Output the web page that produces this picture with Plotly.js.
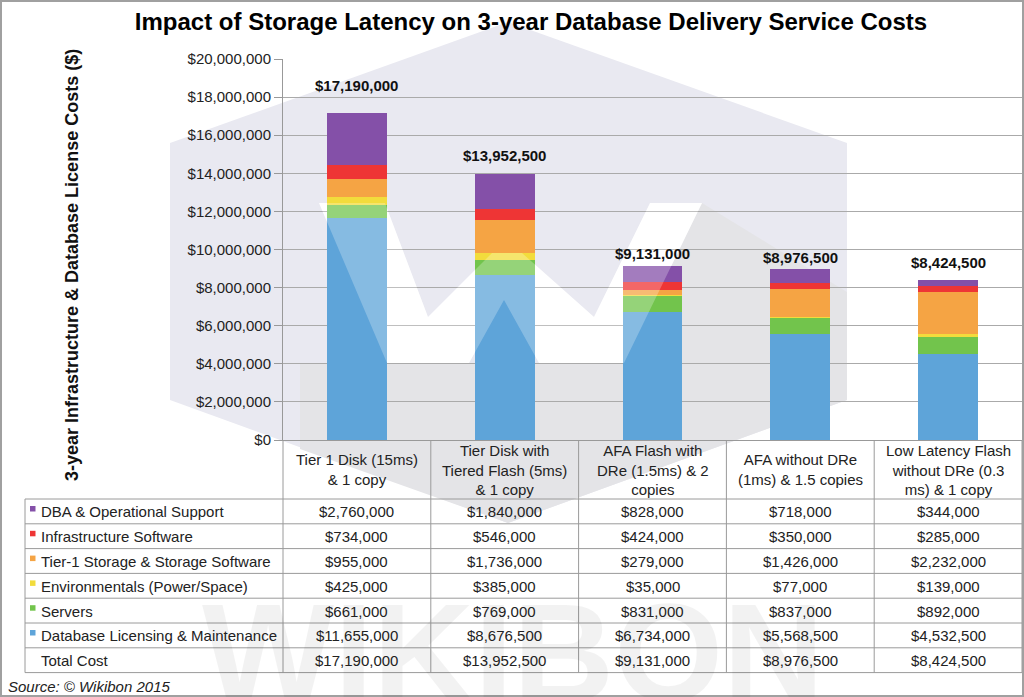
<!DOCTYPE html>
<html><head><meta charset="utf-8">
<script src="https://cdn.plot.ly/plotly-3.0.1.min.js"></script>
<style>html,body{margin:0;padding:0;background:#fff}#chart{width:1024px;height:697px}</style>
</head><body><div id="chart"></div>
<script>
// ---------------- data ----------------
const categories = [
  "Tier 1 Disk (15ms)<br>& 1 copy",
  "Tier Disk with<br>Tiered Flash (5ms)<br>& 1 copy",
  "AFA Flash with<br>DRe (1.5ms) & 2<br>copies",
  "AFA without DRe<br>(1ms) & 1.5 copies",
  "Low Latency Flash<br>without DRe (0.3<br>ms) & 1 copy"
];
const dbaSupport      = [2760000, 1840000, 828000, 718000, 344000];
const infraSoftware   = [734000, 546000, 424000, 350000, 285000];
const tier1Storage    = [955000, 1736000, 279000, 1426000, 2232000];
const environmentals  = [425000, 385000, 35000, 77000, 139000];
const servers         = [661000, 769000, 831000, 837000, 892000];
const dbLicensing     = [11655000, 8676500, 6734000, 5568500, 4532500];
const totalCost       = [17190000, 13952500, 9131000, 8976500, 8424500];
const seriesNames = [
  "DBA & Operational Support",
  "Infrastructure Software",
  "Tier-1 Storage & Storage Software",
  "Environmentals (Power/Space)",
  "Servers",
  "Database Licensing & Maintenance"
];
const totalLabel = "Total Cost";
const titleText = "Impact of Storage Latency on 3-year Database Delivery Service Costs";
const yTitleText = "3-year Infrastructure & Database License Costs ($)";
const sourceText = "Source: © Wikibon 2015";
const watermarkText = "WIKIBON";

// ---------------- styles ----------------
const seriesValues = [dbaSupport, infraSoftware, tier1Storage, environmentals, servers, dbLicensing];
const seriesColors = ["#8450a8", "#ee3535", "#f5a444", "#f2dc3c", "#72c44c", "#5ea4d9"];
const labelLift = [27, 19, 13, 12, 17];
const FONT = "Liberation Sans, Arial, Helvetica, sans-serif";

const W = 1024, H = 697, L = 283, R = 2, T = 59, B = 257;
const pw = W - L - R, ph = H - T - B;
const xp = px => (px - L) / pw;
const yp = py => (H - B - py) / ph;
const fmt = v => "$" + v.toLocaleString("en-US");

// bars: stack bottom -> top (reverse of table order)
const traces = [];
for (let i = seriesValues.length - 1; i >= 0; i--) {
  traces.push({
    type: "bar", x: categories, y: seriesValues[i], name: seriesNames[i],
    marker: {color: seriesColors[i], line: {width: 0}},
    hovertemplate: "%{y:$,}<extra>" + seriesNames[i] + "</extra>"
  });
}

const shapes = [];
const annotations = [];

// watermark
const P = pts => "M" + pts.map(p => xp(p[0]) + "," + yp(p[1])).join(" L") + " Z";
const hexagon = [[508,22],[847,143],[847,400],[508,523],[170,400],[170,143]];
const shadow = [[702,203],[847,292],[847,400],[508,523],[300,449],[300,363],[613,363]];
const wLogo = [[319,203],[385,203],[428,317],[492,253],[522,253],[594,317],[650,203],[702,203],[624,363],[539,363],[504,300],[469,363],[387,363]];
shapes.push({type:"path", xref:"paper", yref:"paper", path:P(hexagon), fillcolor:"#e9e9f1", line:{width:0}, layer:"below"});
shapes.push({type:"path", xref:"paper", yref:"paper", path:P(shadow), fillcolor:"#e4e4e7", line:{width:0}, layer:"below"});
shapes.push({type:"path", xref:"paper", yref:"paper", path:P(wLogo), fillcolor:"#ffffff", line:{width:0}, layer:"below"});
shapes.push({type:"path", xref:"paper", yref:"paper", path:P(wLogo), fillcolor:"rgba(255,255,255,0.25)", line:{width:0}, layer:"above"});
annotations.push({xref:"paper", yref:"paper", x:xp(513), y:yp(652), text:"<b>" + watermarkText + "</b>", showarrow:false,
  font:{family:FONT, size:140, color:"rgba(0,0,0,0.05)"}, xanchor:"center", yanchor:"middle"});

// table geometry
const headerTop = 440, headerBottom = 499, rowH = 24.8;
const nRows = seriesNames.length + 1;
const tableBottom = headerBottom + nRows * rowH;
const tableLeft = 25;
const gridColor = "#9a9a9a";
for (let r = 0; r <= nRows; r++) {
  const y = headerBottom + r * rowH;
  shapes.push({type:"line", xref:"paper", yref:"paper", x0:xp(tableLeft), x1:1, y0:yp(y), y1:yp(y), line:{color:gridColor, width:1}});
}
shapes.push({type:"line", xref:"paper", yref:"paper", x0:xp(tableLeft), x1:xp(tableLeft), y0:yp(headerBottom), y1:yp(tableBottom), line:{color:gridColor, width:1}});
for (let c = 0; c <= categories.length; c++) {
  const x = c / categories.length;
  shapes.push({type:"line", xref:"paper", yref:"paper", x0:x, x1:x, y0:yp(headerTop), y1:yp(tableBottom), line:{color:gridColor, width:1}});
}
// header labels
categories.forEach(cat => {
  annotations.push({xref:"x", yref:"paper", x:cat, y:yp((headerTop + headerBottom) / 2), text:cat, showarrow:false,
    font:{family:FONT, size:15, color:"#222"}, align:"center", xanchor:"center", yanchor:"middle"});
});
// rows
const rowValues = seriesValues.concat([totalCost]);
const rowNames = seriesNames.concat([totalLabel]);
rowNames.forEach((name, r) => {
  const top = headerBottom + r * rowH;
  const yc = yp(top + rowH / 2 + 0.5);
  annotations.push({xref:"paper", yref:"paper", x:xp(39), y:yc, text:name, showarrow:false,
    font:{family:FONT, size:15, color:"#222"}, xanchor:"left", yanchor:"middle"});
  if (r < seriesColors.length) {
    shapes.push({type:"rect", xref:"paper", yref:"paper", x0:xp(30), x1:xp(35.5), y0:yp(top + 7), y1:yp(top + 12.5),
      fillcolor:seriesColors[r], line:{width:0}});
  }
  categories.forEach((cat, c) => {
    annotations.push({xref:"x", yref:"paper", x:cat, y:yc, text:fmt(rowValues[r][c]), showarrow:false,
      font:{family:FONT, size:15, color:"#222"}, xanchor:"center", yanchor:"middle"});
  });
});
// totals above bars
categories.forEach((cat, c) => {
  annotations.push({xref:"x", yref:"y", x:cat, y:totalCost[c], yshift:labelLift[c], text:"<b>" + fmt(totalCost[c]) + "</b>",
    showarrow:false, font:{family:FONT, size:15, color:"#111"}, xanchor:"center", yanchor:"middle"});
});
// y title
annotations.push({xref:"paper", yref:"paper", x:xp(72), y:yp(265), text:"<b>" + yTitleText + "</b>", textangle:-90,
  showarrow:false, font:{family:FONT, size:18, color:"#111"}, xanchor:"center", yanchor:"middle"});
// source
annotations.push({xref:"paper", yref:"paper", x:xp(6), y:yp(686), text:"<i>" + sourceText + "</i>", showarrow:false,
  font:{family:FONT, size:15, color:"#222"}, xanchor:"left", yanchor:"middle"});
// outer frame
shapes.push({type:"rect", xref:"paper", yref:"paper", x0:xp(1), x1:xp(1023), y0:yp(1), y1:yp(696),
  line:{color:"#a0a0a0", width:2}, fillcolor:"rgba(0,0,0,0)", layer:"above"});

const layout = {
  width: W, height: H,
  margin: {l: L, r: R, t: T, b: B, pad: 0},
  paper_bgcolor: "#ffffff", plot_bgcolor: "rgba(0,0,0,0)",
  barmode: "stack", bargap: 0.595,
  showlegend: false,
  font: {family: FONT, color: "#222"},
  title: {text: "<b>" + titleText + "</b>", x: 531 / W, xanchor: "center", y: 1 - 22 / H, yanchor: "middle",
    font: {family: FONT, size: 24, color: "#000"}},
  xaxis: {type: "category", range: [-0.5, 4.5], showticklabels: false, ticks: "", showgrid: false,
    showline: true, linecolor: "#999", linewidth: 1, zeroline: false, fixedrange: true},
  yaxis: {range: [0, 20000000], dtick: 2000000, tick0: 0, tickprefix: "$", tickformat: ",",
    ticks: "outside", ticklen: 8, tickcolor: "#999", showline: true, linecolor: "#999", mirror: true,
    gridcolor: "#aaaaaa", gridwidth: 1, zeroline: false, tickfont: {family: FONT, size: 15, color: "#222"},
    fixedrange: true},
  shapes: shapes,
  annotations: annotations
};
Plotly.newPlot("chart", traces, layout, {displayModeBar: false, staticPlot: true});
</script>
</body></html>
